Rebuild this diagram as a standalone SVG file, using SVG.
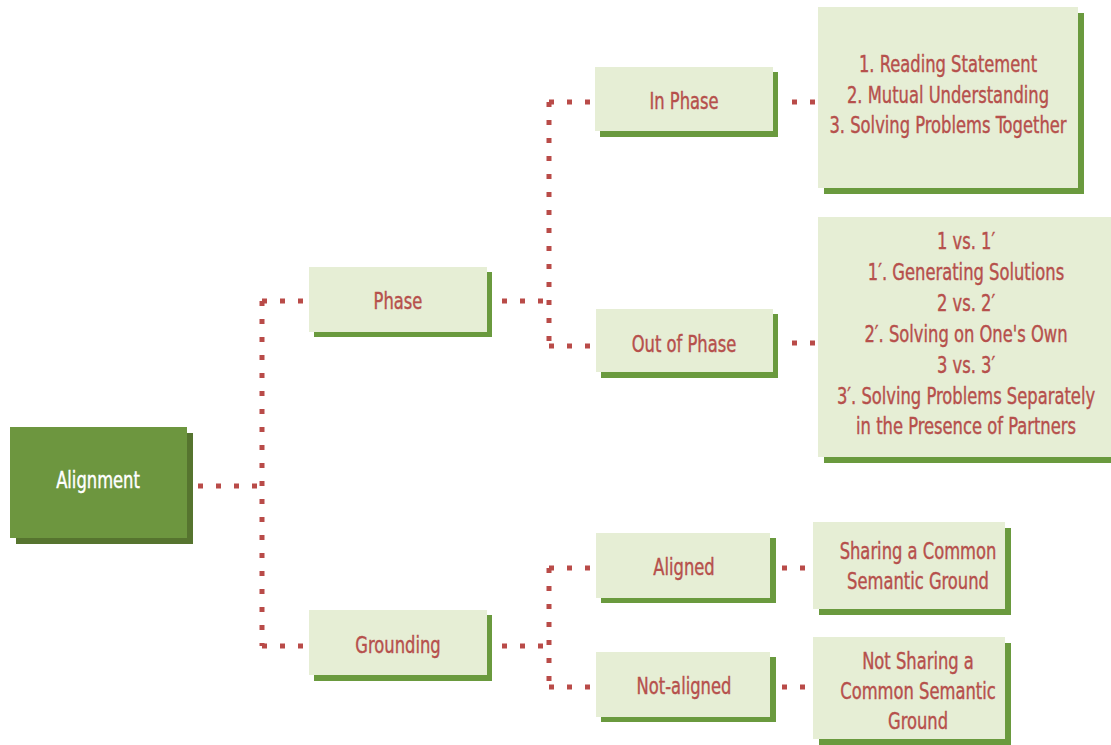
<svg xmlns="http://www.w3.org/2000/svg" width="1111" height="745" viewBox="0 0 1111 745">
<style>
.sh{fill:#6a9a3e}
.bx{fill:#e6eed5}
.t{font-family:"DejaVu Sans Condensed","Liberation Sans",sans-serif;font-size:23px;fill:#b6504c;stroke:#b6504c;stroke-width:0.4;text-anchor:middle;dominant-baseline:central}
.w{fill:#ffffff;stroke:#ffffff}
.c{fill:none;stroke:#b94b48;stroke-width:5;stroke-dasharray:5 13}
</style>
<rect width="1111" height="745" fill="#ffffff"/>
<g id="connectors">
<path class="c" d="M198 486 H262"/>
<path class="c" d="M262 301 V646"/>
<path class="c" d="M262 301 H309"/>
<path class="c" d="M262 646 H309"/>
<path class="c" d="M502 301 H549"/>
<path class="c" d="M549 102 V346"/>
<path class="c" d="M549 102 H595"/>
<path class="c" d="M549 346 H595"/>
<path class="c" d="M792 102 H818"/>
<path class="c" d="M792 343 H818"/>
<path class="c" d="M502 646 H549"/>
<path class="c" d="M549 568 V687"/>
<path class="c" d="M549 568 H596"/>
<path class="c" d="M549 687 H596"/>
<path class="c" d="M782 568 H813"/>
<path class="c" d="M782 687 H813"/>
</g>
<g id="alignment">
<rect x="16" y="433" width="177" height="111" fill="#56742f"/>
<rect x="10" y="427" width="177" height="111" fill="#6d963f"/>
<text class="t w" transform="translate(98 0) scale(0.79 1)" x="0" y="480">Alignment</text>
</g>
<g id="phase">
<rect class="sh" x="314" y="272" width="178" height="65"/>
<rect class="bx" x="309" y="267" width="178" height="65"/>
<text class="t" transform="translate(398 0) scale(0.79 1)" x="0" y="301">Phase</text>
</g>
<g id="grounding">
<rect class="sh" x="314" y="615" width="178" height="66"/>
<rect class="bx" x="309" y="610" width="178" height="65"/>
<text class="t" transform="translate(398 0) scale(0.79 1)" x="0" y="645">Grounding</text>
</g>
<g id="in-phase">
<rect class="sh" x="600" y="72" width="178" height="65"/>
<rect class="bx" x="595" y="67" width="178" height="64"/>
<text class="t" transform="translate(684 0) scale(0.79 1)" x="0" y="101">In Phase</text>
</g>
<g id="out-of-phase">
<rect class="sh" x="601" y="314" width="177" height="64"/>
<rect class="bx" x="596" y="309" width="177" height="63"/>
<text class="t" transform="translate(684 0) scale(0.79 1)" x="0" y="344">Out of Phase</text>
</g>
<g id="aligned">
<rect class="sh" x="601" y="538" width="175" height="65"/>
<rect class="bx" x="596" y="533" width="174" height="65"/>
<text class="t" transform="translate(684 0) scale(0.79 1)" x="0" y="567">Aligned</text>
</g>
<g id="not-aligned">
<rect class="sh" x="601" y="657" width="175" height="65"/>
<rect class="bx" x="596" y="652" width="174" height="65"/>
<text class="t" transform="translate(684 0) scale(0.79 1)" x="0" y="686">Not-aligned</text>
</g>
<g id="in-phase-detail">
<rect class="sh" x="824" y="13" width="260" height="181"/>
<rect class="bx" x="818" y="7" width="260" height="181"/>
<g transform="translate(948 0) scale(0.79 1)">
<text class="t" x="0" y="64">1. Reading Statement</text>
<text class="t" x="0" y="95">2. Mutual Understanding</text>
<text class="t" x="0" y="125">3. Solving Problems Together</text>
</g>
</g>
<g id="out-of-phase-detail">
<rect class="sh" x="824" y="223" width="296" height="240"/>
<rect class="bx" x="818" y="217" width="296" height="240"/>
<g transform="translate(966 0) scale(0.79 1)">
<text class="t" x="0" y="241">1 vs. 1′</text>
<text class="t" x="0" y="272">1′. Generating Solutions</text>
<text class="t" x="0" y="303">2 vs. 2′</text>
<text class="t" x="0" y="334">2′. Solving on One's Own</text>
<text class="t" x="0" y="365">3 vs. 3′</text>
<text class="t" x="0" y="396">3′. Solving Problems Separately</text>
<text class="t" x="0" y="426">in the Presence of Partners</text>
</g>
</g>
<g id="sharing">
<rect class="sh" x="819" y="528" width="192" height="87"/>
<rect class="bx" x="813" y="522" width="192" height="87"/>
<g transform="translate(918 0) scale(0.79 1)">
<text class="t" x="0" y="551">Sharing a Common</text>
<text class="t" x="0" y="581">Semantic Ground</text>
</g>
</g>
<g id="not-sharing">
<rect class="sh" x="819" y="643" width="192" height="102"/>
<rect class="bx" x="813" y="637" width="192" height="102"/>
<g transform="translate(918 0) scale(0.79 1)">
<text class="t" x="0" y="661">Not Sharing a</text>
<text class="t" x="0" y="691">Common Semantic</text>
<text class="t" x="0" y="721">Ground</text>
</g>
</g>
</svg>
